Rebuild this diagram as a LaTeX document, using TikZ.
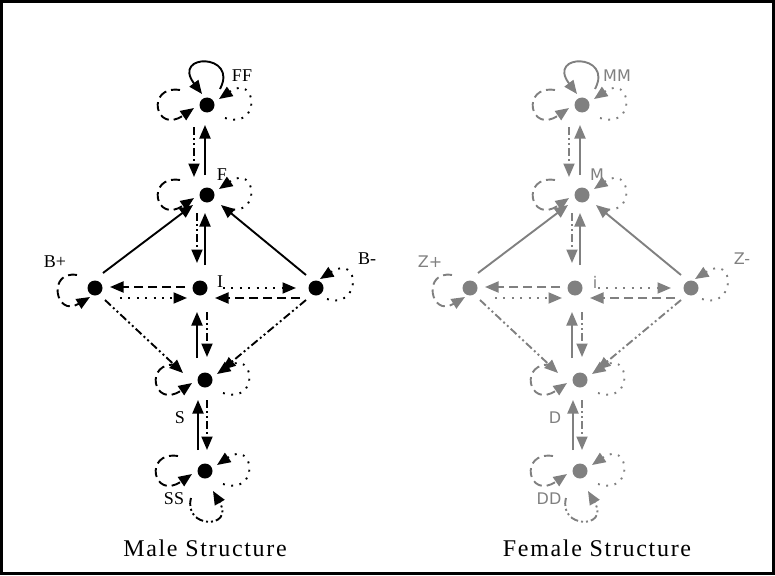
\documentclass[tikz,border=0pt]{standalone}
\usepackage{fontspec}
\setmainfont{Liberation Serif}
\newfontfamily\femfont{DejaVu Sans}
\newfontfamily\capfont[LetterSpace=7]{Liberation Serif}
\usetikzlibrary{arrows.meta,calc}
\definecolor{fgray}{RGB}{128,128,128}
\tikzset{
  dot/.style={circle,fill,minimum size=15pt,inner sep=0pt,outer sep=0pt},
  tiparrow/.style={-{Triangle[length=13.5pt,width=11pt]}},
  solidln/.style={line width=1.9pt,tiparrow},
  dashln/.style={line width=1.9pt,dash pattern=on 9pt off 5pt,tiparrow},
  dotln/.style={line width=1.9pt,dash pattern=on 1.9pt off 6.5pt,tiparrow},
  ddln/.style={line width=1.9pt,dash pattern=on 8pt off 3pt on 2pt off 3pt on 2pt off 3pt,tiparrow},
  lbl/.style={inner sep=0pt},
  captxt/.style={inner sep=0pt,font=\capfont\fontsize{24}{24}\selectfont},
}
\newcommand\lloop[1]{\draw[dashln] ($(#1)+(-27,15)$) .. controls ($(#1)+(-62,20)$) and ($(#1)+(-52,-30)$) .. ($(#1)+(-13,-3)$);}
\newcommand\rloop[1]{\draw[dotln] ($(#1)+(18,-13)$) .. controls ($(#1)+(55,-25)$) and ($(#1)+(50,32)$) .. ($(#1)+(12,6)$);}
\newcommand\onestruct[1]{%
  \node[dot] (#1FF) at (207,-105) {};
  \node[dot] (#1F) at (207,-195) {};
  \node[dot] (#1I) at (200,-288) {};
  \node[dot] (#1Bp) at (95,-288) {};
  \node[dot] (#1Bm) at (316,-288) {};
  \node[dot] (#1S) at (205,-380) {};
  \node[dot] (#1SS) at (205,-471) {};
  % labels
  \node[lbl,font=\lblfont] (#1FFl) at (242,-76) {\lFF};
  \node[lbl,font=\lblfont] (#1Fl) at (222,-175) {\lF};
  \node[lbl,font=\lblfont] (#1Bpl) at (55,-262) {\lBp};
  \node[lbl,font=\lblfont] (#1Il) at (220,-282) {\lI};
  \node[lbl,font=\lblfont] (#1Bml) at (367,-259) {\lBm};
  \node[lbl,font=\lblfont] (#1Sl) at (180,-418) {\lS};
  \node[lbl,font=\lblfont] (#1SSl) at (174,-499) {\lSS};
  % loops
  \draw[solidln] ($(#1FF)+(13,16)$) .. controls ($(#1FF)+(32,52)$) and ($(#1FF)+(-36,52)$) .. ($(#1FF)+(-5,11)$);
  \lloop{#1FF}\rloop{#1FF}
  \lloop{#1F}\rloop{#1F}
  \draw[dashln] ($(#1Bp)+(-18,13)$) .. controls ($(#1Bp)+(-48,18)$) and ($(#1Bp)+(-40,-30)$) .. ($(#1Bp)+(-5,-9)$);
  \draw[dotln] ($(#1Bm)+(11,-11)$) .. controls ($(#1Bm)+(45,-22)$) and ($(#1Bm)+(45,35)$) .. ($(#1Bm)+(4,9)$);
  \lloop{#1S}\rloop{#1S}
  \lloop{#1SS}\rloop{#1SS}
  \draw[ddln] ($(#1SS)+(-14,-27)$) .. controls ($(#1SS)+(-22,-58)$) and ($(#1SS)+(30,-58)$) .. ($(#1SS)+(8,-20)$);
  % vertical pairs
  \draw[ddln] ($(#1FF)+(-13,-22)$) -- ($(#1F)+(-13,18)$);
  \draw[solidln] ($(#1F)+(-2,20)$) -- ($(#1FF)+(-2,-20)$);
  \draw[ddln] ($(#1F)+(-10,-18)$) -- ($(#1I)+(-3,25)$);
  \draw[solidln] ($(#1I)+(5,23)$) -- ($(#1F)+(-2,-18)$);
  \draw[solidln] ($(#1S)+(-8,22)$) -- ($(#1I)+(-3,-24)$);
  \draw[ddln] ($(#1I)+(7,-24)$) -- ($(#1S)+(2,23)$);
  \draw[solidln] ($(#1SS)+(-7,21)$) -- ($(#1S)+(-7,-20)$);
  \draw[ddln] ($(#1S)+(2,-20)$) -- ($(#1SS)+(2,21)$);
  % horizontal pairs
  \draw[dashln] ($(#1I)+(-15,1)$) -- ($(#1Bp)+(15,1)$);
  \draw[dotln] ($(#1Bp)+(25,-10)$) -- ($(#1I)+(-13,-10)$);
  \draw[dotln] ($(#1I)+(23,0)$) -- ($(#1Bm)+(-20,0)$);
  \draw[dashln] ($(#1Bm)+(-16,-10)$) -- ($(#1I)+(15,-10)$);
  % diagonals
  \draw[solidln] ($(#1Bp)+(8,15)$) -- ($(#1F)+(-14,-10)$);
  \draw[solidln] ($(#1Bm)+(-10,13)$) -- ($(#1F)+(14,-10)$);
  \draw[ddln] ($(#1Bp)+(10,-12)$) -- ($(#1S)+(-22,7)$);
  \draw[ddln] ($(#1Bm)+(-10,-12)$) -- ($(#1S)+(17,10)$);
}
\begin{document}
\begin{tikzpicture}[x=1pt,y=1pt]
\useasboundingbox (0,0) rectangle (775,-575);
\draw[line width=3pt] (1.5,-1.5) rectangle (773.5,-573.5);
% male
\def\lblfont{\fontsize{18}{18}\selectfont}
\def\lFF{FF}\def\lF{F}\def\lBp{B+}\def\lI{I}\def\lBm{B-}\def\lS{S}\def\lSS{SS}
\onestruct{m}
\node[captxt] (mcap) at (205,-548) {Male Structure};
% female
\begin{scope}[xshift=375pt,color=fgray]
\def\lblfont{\femfont\fontsize{16}{16}\selectfont}
\def\lFF{MM}\def\lF{M}\def\lBp{Z+}\def\lI{i}\def\lBm{Z-}\def\lS{D}\def\lSS{DD}
\onestruct{f}
\end{scope}
\node[captxt] (fcap) at (597,-548) {Female Structure};
\end{tikzpicture}
\end{document}
